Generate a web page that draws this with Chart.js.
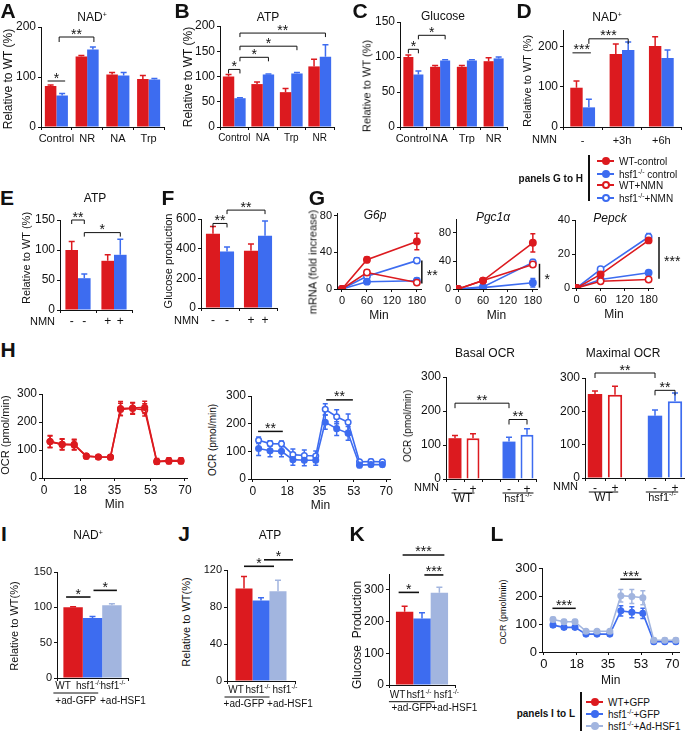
<!DOCTYPE html>
<html>
<head>
<meta charset="utf-8">
<script src="https://cdn.jsdelivr.net/npm/chart.js@4.4.1/dist/chart.umd.min.js"></script>
<style>
html, body { margin: 0; padding: 0; background: #fff; }
#fig { position: relative; width: 685px; height: 731px; overflow: hidden; font-family: "Liberation Sans", Arial, sans-serif; color: #111; }
#fig canvas { position: absolute; }
.t { position: absolute; transform: translate(-50%, -50%); white-space: nowrap; font-size: 12px; line-height: 1; z-index: 5; }
.it { font-style: italic; }
.yt { position: absolute; transform: translate(-50%, -50%) rotate(-90deg); white-space: nowrap; font-size: 11px; line-height: 1; z-index: 5; }
.lt { position: absolute; transform: translate(-50%, -50%); font-weight: bold; font-size: 21px; line-height: 1; z-index: 5; }
.leg { position: absolute; font-size: 10px; line-height: 1; white-space: nowrap; transform: translateY(-50%); z-index: 5; }
.leg sup, .t sup { font-size: 7px; vertical-align: 4px; }
.mk { display: inline-block; position: relative; width: 17px; height: 8px; vertical-align: 0px; margin-right: 5px; }
.mk::before { content: ""; position: absolute; left: 0; right: 0; top: 3px; height: 1.5px; background: var(--c); }
.mk i { position: absolute; left: 4.5px; top: 0; width: 4px; height: 4px; border-radius: 50%; border: 2px solid var(--c); background: var(--c); }
.mk.o i { background: #fff; }
.vb { position: absolute; width: 1.5px; background: #111; z-index: 5; }
.pn { position: absolute; font-size: 10px; font-weight: bold; transform: translate(-100%, -50%); white-space: nowrap; z-index: 5; }
</style>
</head>
<body>
<div id="fig">
  <div class="lt" style="left:8px;top:10px">A</div>
  <div class="lt" style="left:182px;top:10px">B</div>
  <div class="lt" style="left:360px;top:10px">C</div>
  <div class="lt" style="left:524px;top:10px">D</div>
  <div class="lt" style="left:7px;top:197px">E</div>
  <div class="lt" style="left:168px;top:197px">F</div>
  <div class="lt" style="left:317px;top:197px">G</div>
  <div class="lt" style="left:8px;top:349px">H</div>
  <div class="lt" style="left:4px;top:533px">I</div>
  <div class="lt" style="left:184px;top:533px">J</div>
  <div class="lt" style="left:357px;top:533px">K</div>
  <div class="lt" style="left:497px;top:533px">L</div>

  <div class="t" style="left:92px;top:17px">NAD<sup>+</sup></div>
  <div class="t" style="left:268px;top:17px">ATP</div>
  <div class="t" style="left:443px;top:16px">Glucose</div>
  <div class="t" style="left:607px;top:17px">NAD<sup>+</sup></div>
  <div class="t" style="left:95px;top:198px">ATP</div>
  <div class="t it" style="left:375px;top:215px">G6p</div>
  <div class="t it" style="left:493px;top:217px">Pgc1α</div>
  <div class="t it" style="left:610px;top:218px">Pepck</div>
  <div class="t" style="left:485px;top:353px">Basal OCR</div>
  <div class="t" style="left:623px;top:353px">Maximal OCR</div>
  <div class="t" style="left:88px;top:535px">NAD<sup>+</sup></div>
  <div class="t" style="left:270px;top:535px">ATP</div>

  <div class="yt" style="left:8px;top:79px;font-size:12px">Relative to WT (%)</div>
  <div class="yt" style="left:188px;top:77px;font-size:12px">Relative to WT (%)</div>
  <div class="yt" style="left:367px;top:86px">Relative to WT (%)</div>
  <div class="yt" style="left:527px;top:81px">Relative to WT (%)</div>
  <div class="yt" style="left:26px;top:258px">Relative to WT (%)</div>
  <div class="yt" style="left:168px;top:261px">Glucose production</div>
  <div class="yt" style="left:313px;top:262px">mRNA (fold increase)</div>
  <div class="yt" style="left:5px;top:435px">OCR (pmol/min)</div>
  <div class="yt" style="left:213px;top:440px;font-size:10px">OCR (pmol/min)</div>
  <div class="yt" style="left:408px;top:426px;font-size:10px">OCR (pmol/min)</div>
  <div class="yt" style="left:14px;top:626px">Relative to WT(%)</div>
  <div class="yt" style="left:186px;top:622px">Relative to WT(%)</div>
  <div class="yt" style="left:357px;top:635px;font-size:12px">Glucose&nbsp;&nbsp;Production</div>
  <div class="yt" style="left:503px;top:612px;font-size:9px">OCR (pmol/min)</div>

  <div class="pn" style="left:583px;top:178px">panels G to H</div>
  <div class="vb" style="left:588px;top:155px;height:46px"></div>
  <div class="leg" style="left:597px;top:162px"><span class="mk" style="--c:#dc1a1f"><i></i></span>WT-control</div>
  <div class="leg" style="left:597px;top:174px"><span class="mk" style="--c:#3d6cf0"><i></i></span>hsf1<sup>-/-</sup> control</div>
  <div class="leg" style="left:597px;top:186px"><span class="mk o" style="--c:#dc1a1f"><i></i></span>WT+NMN</div>
  <div class="leg" style="left:597px;top:198px"><span class="mk o" style="--c:#3d6cf0"><i></i></span>hsf1<sup>-/-</sup>+NMN</div>

  <div class="pn" style="left:575px;top:713px">panels I to L</div>
  <div class="vb" style="left:580px;top:692px;height:39px"></div>
  <div class="leg" style="left:586px;top:703px"><span class="mk" style="--c:#dc1a1f"><i></i></span>WT+GFP</div>
  <div class="leg" style="left:586px;top:714px"><span class="mk" style="--c:#3d6cf0"><i></i></span>hsf1<sup>-/-</sup>+GFP</div>
  <div class="leg" style="left:586px;top:726px"><span class="mk" style="--c:#a2b5df"><i></i></span>hsf1<sup>-/-</sup>+Ad-HSF1</div>
</div>
<script>
// Colours
const RED = '#dc1a1f';
const BLUE = '#3d6cf0';
const LIGHT = '#a2b5df';
const INK = '#111';
const FONT = '"Liberation Sans", Arial, sans-serif';

// ---------- Data ----------
// A: NAD+ (relative to WT, %)
const aCats = ['Control', 'NR', 'NA', 'Trp'];
const aWT = [82, 141, 105, 96];
const aWTErr = [2, 2, 4, 7];
const aKO = [63, 155, 103, 95];
const aKOErr = [4, 5, 6, 2];
const aTicks = [0, 100, 200];

// B: ATP
const bCats = ['Control', 'NA', 'Trp', 'NR'];
const bWT = [100, 85, 69, 120];
const bWTErr = [4, 4, 7, 14];
const bKO = [57, 104, 106, 139];
const bKOErr = [1, 1, 2, 24];
const bTicks = [0, 50, 100, 150, 200];

// C: Glucose
const cCats = ['Control', 'NA', 'Trp', 'NR'];
const cWT = [100, 86, 86, 94];
const cWTErr = [3, 2, 2, 5];
const cKO = [75, 95, 95, 98];
const cKOErr = [5, 1, 1, 2];
const cTicks = [0, 50, 100, 150];

// D: NAD+ after NMN
const dCats = ['-', '+3h', '+6h'];
const dWT = [98, 182, 202];
const dWTErr = [17, 25, 23];
const dKO = [49, 192, 172];
const dKOErr = [20, 20, 20];
const dTicks = [0, 100, 200];

// E: ATP with NMN
const eWT = [100, 82];
const eWTErr = [14, 10];
const eKO = [53, 92];
const eKOErr = [7, 26];
const eNmn = ['-', '-', '+', '+'];
const eTicks = [0, 50, 100, 150];

// F: Glucose production with NMN
const fWT = [500, 386];
const fWTErr = [50, 45];
const fKO = [381, 487];
const fKOErr = [30, 100];
const fNmn = ['-', '-', '+', '+'];
const fTicks = [0, 200, 400, 600];

// G: mRNA time course
const gMin = [0, 60, 180];
const gMinTicks = [0, 60, 120, 180];
const g6pWTc = [0, 32, 52];
const g6pWTcErr = [0, 3, 9];
const g6pKOc = [0, 8, 9];
const g6pKOcErr = [0, 2, 3];
const g6pWTn = [0, 18, 7];
const g6pWTnErr = [0, 3, 2];
const g6pKOn = [0, 14, 31];
const g6pKOnErr = [0, 3, 3];
const g6pTicks = [0, 40, 80];

const pgcWTc = [0, 12, 66];
const pgcWTcErr = [0, 2, 13];
const pgcKOc = [0, 2, 9];
const pgcKOcErr = [0, 1, 6];
const pgcWTn = [0, 12, 35];
const pgcWTnErr = [0, 2, 3];
const pgcKOn = [0, 3, 38];
const pgcKOnErr = [0, 2, 4];
const pgcTicks = [0, 40, 80];

const pepWTc = [0, 8, 28];
const pepWTcErr = [0, 1, 1];
const pepKOc = [0, 5, 9];
const pepKOcErr = [0, 1, 1];
const pepWTn = [0, 4, 5];
const pepWTnErr = [0, 1, 1];
const pepKOn = [0, 11, 30];
const pepKOnErr = [0, 1, 2];
const pepTicks = [0, 20, 40];

// H: OCR traces
const ocrMin = [3, 9, 15, 21, 27, 33, 38, 44, 50, 56, 62, 68];
const ocrMinTicks = [0, 18, 35, 53, 70];
const ocrTicks = [0, 100, 200, 300];
const hWTc = [130, 120, 120, 78, 75, 75, 248, 250, 252, 60, 62, 62];
const hWTcErr = [22, 20, 18, 8, 6, 8, 25, 20, 22, 10, 10, 10];
const hWTn = [130, 120, 118, 78, 75, 74, 245, 248, 243, 58, 60, 60];
const hWTnErr = [20, 18, 18, 8, 6, 8, 22, 20, 22, 8, 8, 8];
const hKOc = [110, 102, 100, 70, 68, 68, 205, 182, 165, 50, 52, 52];
const hKOcErr = [25, 22, 20, 20, 20, 18, 25, 25, 25, 8, 8, 8];
const hKOn = [140, 128, 127, 88, 85, 83, 252, 225, 205, 62, 63, 62];
const hKOnErr = [12, 10, 10, 20, 20, 18, 20, 25, 30, 8, 8, 8];

// H: basal / maximal OCR bars (WT -, WT +, gap, hsf1 -, hsf1 +)
const hBarCats = ['-', '+', '', '-', '+'];
const hBasal = [120, 120, null, 110, 130];
const hBasalErr = [8, 13, 0, 13, 18];
const hMax = [252, 250, null, 187, 230];
const hMaxErr = [9, 25, 0, 17, 25];

// I-K: adenovirus rescue
const adLabels = ['WT', 'hsf1^-/-', 'hsf1^-/-'];
const iWT = [100], iKO = [85], iHSF = [103];
const iWTErr = [1], iKOErr = [2], iHSFErr = [2];
const iTicks = [0, 50, 100, 150];
const jWT = [100], jKO = [87], jHSF = [97];
const jWTErr = [13], jKOErr = [3], jHSFErr = [12];
const jTicks = [0, 40, 80, 120];
const kWT = [231], kKO = [210], kHSF = [291];
const kWTErr = [17], kKOErr = [18], kHSFErr = [17];
const kTicks = [0, 100, 200, 300];

// L: OCR rescue trace
const lMin = [5, 11, 17, 23, 29, 36, 42, 48, 54, 60, 66, 72];
const lKO = [96, 88, 88, 64, 64, 64, 147, 142, 138, 37, 37, 37];
const lKOErr = [8, 6, 6, 5, 5, 5, 18, 20, 18, 6, 6, 6];
const lHSF = [116, 108, 108, 74, 74, 74, 201, 198, 194, 42, 42, 42];
const lHSFErr = [8, 8, 8, 5, 5, 5, 22, 25, 25, 8, 8, 8];

// ---------- Helpers ----------
Chart.defaults.font.family = FONT;
Chart.defaults.color = INK;

function drawRich(ctx, str, x, y, size, align) {
    const [base, sup] = str.split('^');
    ctx.font = `${size}px ${FONT}`;
    const wb = ctx.measureText(base).width;
    let ws = 0;
    if (sup) {
        ctx.font = `${size * 0.65}px ${FONT}`;
        ws = ctx.measureText(sup).width;
    }
    let x0 = x - (wb + ws) / 2;
    if (align === 'right') x0 = x - wb - ws;
    if (align === 'left') x0 = x;
    ctx.textAlign = 'left';
    ctx.textBaseline = 'middle';
    ctx.font = `${size}px ${FONT}`;
    ctx.fillText(base, x0, y);
    if (sup) {
        ctx.font = `${size * 0.65}px ${FONT}`;
        ctx.fillText(sup, x0 + wb, y - size * 0.32);
    }
}

function drawErrors(chart, kind) {
    const ctx = chart.ctx;
    chart.data.datasets.forEach((ds, i) => {
        if (!ds.errors) return;
        const meta = chart.getDatasetMeta(i);
        if (meta.type !== kind) return;
        const ys = chart.scales[meta.yAxisID];
        meta.data.forEach((el, j) => {
            const raw = ds.data[j];
            const v = (raw !== null && typeof raw === 'object') ? raw.y : raw;
            const e = ds.errors[j];
            if (v === null || v === undefined || !e) return;
            const col = Array.isArray(ds.errColor) ? ds.errColor[j] : ds.errColor;
            const top = ys.getPixelForValue(v + e);
            const bot = kind === 'bar' ? el.y : ys.getPixelForValue(v - e);
            const cap = ds.errCap || 3;
            ctx.save();
            ctx.strokeStyle = col;
            ctx.lineWidth = ds.errWidth || 1.5;
            ctx.beginPath();
            ctx.moveTo(el.x, bot);
            ctx.lineTo(el.x, top);
            ctx.moveTo(el.x - cap, top);
            ctx.lineTo(el.x + cap, top);
            if (kind === 'line') {
                ctx.moveTo(el.x - cap, bot);
                ctx.lineTo(el.x + cap, bot);
            }
            ctx.stroke();
            ctx.restore();
        });
    });
}

const errPlugin = {
    id: 'errbars',
    beforeDatasetsDraw(chart) { drawErrors(chart, 'line'); },
    afterDatasetsDraw(chart) { drawErrors(chart, 'bar'); }
};

function barX(chart, ref) {
    return chart.getDatasetMeta(ref[1]).data[ref[0]].x;
}

// Significance brackets and lines
const sigPlugin = {
    id: 'sig',
    afterDatasetsDraw(chart) {
        const items = (chart.canvas._extra || {}).sig || [];
        const ctx = chart.ctx;
        const xs = chart.scales.x, ys = chart.scales.y;
        ctx.save();
        ctx.strokeStyle = INK;
        ctx.fillStyle = INK;
        for (const it of items) {
            ctx.lineWidth = it.lw || 1;
            ctx.font = `${it.fs || 14}px ${FONT}`;
            if (it.vx !== undefined) {
                const x = xs.getPixelForValue(it.vx);
                const y0 = ys.getPixelForValue(it.y0), y1 = ys.getPixelForValue(it.y1);
                ctx.lineWidth = 1.5;
                ctx.beginPath();
                ctx.moveTo(x, y0);
                ctx.lineTo(x, y1);
                ctx.stroke();
                ctx.textAlign = 'left';
                ctx.textBaseline = 'alphabetic';
                ctx.fillText(it.text, x + 5, (y0 + y1) / 2 + 8);
                continue;
            }
            let xa, xb;
            if (it.xa !== undefined) {
                xa = xs.getPixelForValue(it.xa);
                xb = xs.getPixelForValue(it.xb);
            } else {
                xa = barX(chart, it.a) + (it.da || 0);
                xb = barX(chart, it.b) + (it.db || 0);
            }
            const y = ys.getPixelForValue(it.y);
            ctx.beginPath();
            if (it.end) {
                ctx.moveTo(xa, y + it.end);
                ctx.lineTo(xa, y);
                ctx.lineTo(xb, y);
                ctx.lineTo(xb, y + it.end);
            } else {
                ctx.moveTo(xa, y);
                ctx.lineTo(xb, y);
            }
            ctx.stroke();
            ctx.textAlign = 'center';
            ctx.textBaseline = 'alphabetic';
            ctx.fillText(it.text, (xa + xb) / 2, y + 1.5);
        }
        ctx.restore();
    }
};

// Per-bar labels, group labels and prefixes under the x axis
const notesPlugin = {
    id: 'xnotes',
    afterDraw(chart) {
        const n = (chart.canvas._extra || {}).notes;
        if (!n) return;
        const ctx = chart.ctx;
        const base = chart.chartArea.bottom;
        const bars = [];
        chart.data.datasets.forEach((ds, i) => {
            chart.getDatasetMeta(i).data.forEach((el, j) => {
                if (ds.data[j] !== null) bars.push(el);
            });
        });
        bars.sort((p, q) => p.x - q.x);
        ctx.save();
        ctx.fillStyle = INK;
        ctx.strokeStyle = INK;
        if (n.prefix) {
            drawRich(ctx, n.prefix.text, chart.chartArea.left + n.prefix.dx, base + n.prefix.dy, n.prefix.fs || 11, 'right');
        }
        if (n.labels) {
            n.labels.texts.forEach((t, k) => {
                const dx = n.labels.dxs ? n.labels.dxs[k] : 0;
                drawRich(ctx, t, bars[k].x + dx, base + n.labels.dy, n.labels.fs || 12);
            });
        }
        (n.groups || []).forEach(g => {
            const xa = bars[g.from].x - bars[g.from].width / 2 + (g.pl || 0);
            const xb = bars[g.to].x + bars[g.to].width / 2 + (g.pr || 0);
            if (g.line) {
                ctx.lineWidth = 1;
                ctx.beginPath();
                ctx.moveTo(xa, base + g.ly);
                ctx.lineTo(xb, base + g.ly);
                ctx.stroke();
            }
            drawRich(ctx, g.text, (xa + xb) / 2 + (g.dx || 0), base + g.dy, g.fs || 10);
        });
        ctx.restore();
    }
};

Chart.register(errPlugin, sigPlugin, notesPlugin);

function yScale(max, ticks, fs) {
    return {
        type: 'linear',
        min: 0,
        max: max,
        afterBuildTicks: s => { s.ticks = ticks.map(v => ({ value: v })); },
        grid: { display: true, drawOnChartArea: false, drawTicks: true, tickLength: 3, color: INK },
        border: { display: true, color: INK, width: 1 },
        ticks: { font: { size: fs }, color: INK, padding: 2 }
    };
}

function xCat(fs, pad) {
    return {
        type: 'category',
        offset: true,
        grid: { display: true, offset: true, drawOnChartArea: false, drawTicks: true, tickLength: 3, color: INK },
        border: { display: true, color: INK, width: 1 },
        ticks: { font: { size: fs }, color: INK, padding: pad === undefined ? 2 : pad, autoSkip: false, maxRotation: 0 }
    };
}

function xLin(min, max, ticks, fs, title) {
    return {
        type: 'linear',
        min: min,
        max: max,
        afterBuildTicks: s => { s.ticks = ticks.map(v => ({ value: v })); },
        grid: { display: true, drawOnChartArea: false, drawTicks: true, tickLength: 3, color: INK },
        border: { display: true, color: INK, width: 1 },
        ticks: { font: { size: fs }, color: INK, padding: 2 },
        title: { display: true, text: title, font: { size: 12 }, color: INK, padding: { top: 0, bottom: 0 } }
    };
}

const fig = document.getElementById('fig');

function addChart(box, config, extra) {
    const pt = box.pt !== undefined ? box.pt : 14;
    const pr = box.pr !== undefined ? box.pr : 10;
    const yw = box.yw !== undefined ? box.yw : 32;
    const left = Math.round(box.x0 - yw);
    const top = Math.round(box.y0 - pt);
    const w = Math.round(box.x1 + pr) - left;
    const h = Math.round(box.y1 + box.xh) - top;
    const cv = document.createElement('canvas');
    cv.width = w;
    cv.height = h;
    cv.style.left = left + 'px';
    cv.style.top = top + 'px';
    cv.style.width = w + 'px';
    cv.style.height = h + 'px';
    fig.appendChild(cv);
    cv._extra = extra || {};
    const padTop = Math.round(box.y0) - top;
    const padRight = w - (Math.round(box.x1) - left);
    const xh = h - (Math.round(box.y1) - top);
    const yW = Math.round(box.x0) - left;
    const o = config.options;
    o.responsive = false;
    o.animation = false;
    o.layout = { padding: { top: padTop, right: padRight, left: 0, bottom: 0 } };
    o.plugins = Object.assign({ legend: { display: false }, tooltip: { enabled: false } }, o.plugins || {});
    o.scales.x.afterFit = s => { s.height = xh; s.paddingLeft = 0; s.paddingRight = 0; };
    o.scales.y.afterFit = s => { s.width = yW; s.paddingTop = 0; s.paddingBottom = 0; };
    return new Chart(cv, config);
}

function barSet(data, errs, color) {
    return { data: data, errors: errs, backgroundColor: color, borderWidth: 0, errColor: color };
}

function pairConfig(cats, wt, wtErr, ko, koErr, cp, yMax, yTicks, xfs) {
    return {
        type: 'bar',
        data: { labels: cats, datasets: [barSet(wt, wtErr, RED), barSet(ko, koErr, BLUE)] },
        options: {
            datasets: { bar: { categoryPercentage: cp, barPercentage: 1 } },
            scales: { x: xCat(xfs), y: yScale(yMax, yTicks, 12) }
        }
    };
}

function lineSet(xs, ys, errs, color, open, r) {
    return {
        data: xs.map((x, i) => ({ x: x, y: ys[i] })),
        errors: errs,
        errColor: color,
        errCap: 2.5,
        borderColor: color,
        backgroundColor: open ? '#fff' : color,
        pointBackgroundColor: open ? '#fff' : color,
        pointBorderColor: color,
        pointBorderWidth: 1.5,
        pointRadius: r || 3.2,
        borderWidth: 1.6,
        tension: 0
    };
}

function lineConfig(datasets, xMin, xMax, xTicks, xfs, yMax, yTicks, yfs) {
    return {
        type: 'line',
        data: { datasets: datasets },
        options: {
            scales: {
                x: xLin(xMin, xMax, xTicks, xfs, 'Min'),
                y: yScale(yMax, yTicks, yfs)
            }
        }
    };
}

function ocrBarConfig(vals, errs) {
    return {
        type: 'bar',
        data: {
            labels: hBarCats,
            datasets: [{
                data: vals,
                errors: errs,
                backgroundColor: [RED, '#fff', RED, BLUE, '#fff'],
                borderColor: [RED, RED, RED, BLUE, BLUE],
                borderWidth: [0, 2, 0, 0, 2],
                errColor: [RED, RED, RED, BLUE, BLUE]
            }]
        },
        options: {
            datasets: { bar: { categoryPercentage: 1, barPercentage: 0.72 } },
            scales: { x: xCat(12, 0), y: yScale(300, ocrTicks, 12) }
        }
    };
}

function rescueConfig(wt, wtErr, ko, koErr, hsf, hsfErr, cp, yMax, yTicks, yfs) {
    return {
        type: 'bar',
        data: { labels: [''], datasets: [barSet(wt, wtErr, RED), barSet(ko, koErr, BLUE), barSet(hsf, hsfErr, LIGHT)] },
        options: {
            datasets: { bar: { categoryPercentage: cp, barPercentage: 1 } },
            scales: { x: xCat(11), y: yScale(yMax, yTicks, yfs) }
        }
    };
}

// ---------- Row 1 ----------
addChart({ x0: 41, x1: 164, y0: 27, y1: 127, xh: 22 },
    pairConfig(aCats, aWT, aWTErr, aKO, aKOErr, 0.75, 200, aTicks, 11),
    { sig: [
        { a: [0, 0], b: [0, 1], y: 92, text: '*', da: -3, db: 3 },
        { a: [0, 1], b: [1, 1], y: 180, text: '**', end: 5, da: -3, db: 1 }
    ] });

addChart({ x0: 220, x1: 334, y0: 26, y1: 127, xh: 22 },
    pairConfig(bCats, bWT, bWTErr, bKO, bKOErr, 0.8, 200, bTicks, 10),
    { sig: [
        { a: [0, 0], b: [0, 1], y: 114, text: '*', end: 4 },
        { a: [0, 1], b: [1, 1], y: 138, text: '*', end: 4 },
        { a: [0, 1], b: [2, 1], y: 160, text: '*', end: 4 },
        { a: [0, 1], b: [3, 1], y: 186, text: '**', end: 4 }
    ] });

addChart({ x0: 400, x1: 507, y0: 22, y1: 127, xh: 22 },
    pairConfig(cCats, cWT, cWTErr, cKO, cKOErr, 0.75, 150, cTicks, 11),
    { sig: [
        { a: [0, 0], b: [0, 1], y: 111, text: '*', end: 4 },
        { a: [0, 1], b: [1, 1], y: 131, text: '*', end: 4 }
    ] });

(function () {
    const cfg = pairConfig(dCats, dWT, dWTErr, dKO, dKOErr, 0.63, 242, dTicks, 11);
    cfg.options.scales.x.ticks.padding = 4;
    addChart({ x0: 563, x1: 681, y0: 30, y1: 127, xh: 22, pr: 4, yw: 36 }, cfg, {
        sig: [
            { a: [0, 0], b: [0, 1], y: 185, text: '***', da: -4, db: 2 },
            { a: [0, 1], b: [1, 1], y: 220, text: '***', end: 5 }
        ],
        notes: { prefix: { text: 'NMN', dx: -6, dy: 13 } }
    });
})();

// ---------- Row 2 ----------
addChart({ x0: 60, x1: 132, y0: 220, y1: 310, xh: 22, yw: 34 },
    pairConfig(['', ''], eWT, eWTErr, eKO, eKOErr, 0.7, 150, eTicks, 12),
    {
        sig: [
            { a: [0, 0], b: [0, 1], y: 150, text: '**', end: 4 },
            { a: [0, 1], b: [1, 1], y: 129, text: '*', end: 4 }
        ],
        notes: { prefix: { text: 'NMN', dx: -5, dy: 12 }, labels: { texts: eNmn, dy: 12 } }
    });

addChart({ x0: 201, x1: 277, y0: 219, y1: 308, xh: 22, pt: 20, yw: 30 },
    pairConfig(['', ''], fWT, fWTErr, fKO, fKOErr, 0.74, 600, fTicks, 12),
    {
        sig: [
            { a: [0, 0], b: [0, 1], y: 570, text: '**', end: 4 },
            { a: [0, 1], b: [1, 1], y: 660, text: '**', end: 4 }
        ],
        notes: { prefix: { text: 'NMN', dx: -2, dy: 13 }, labels: { texts: fNmn, dy: 13 } }
    });

addChart({ x0: 337, x1: 421, y0: 212.5, y1: 289.3, yw: 18, xh: 34, pr: 26 },
    lineConfig([
        lineSet(gMin, g6pWTc, g6pWTcErr, RED, false),
        lineSet(gMin, g6pWTn, g6pWTnErr, RED, true),
        lineSet(gMin, g6pKOc, g6pKOcErr, BLUE, false),
        lineSet(gMin, g6pKOn, g6pKOnErr, BLUE, true)
    ], -12, 190, gMinTicks, 11, 83, g6pTicks, 11),
    { sig: [{ vx: 192, y0: 6, y1: 31, text: '**' }] });

addChart({ x0: 456, x1: 537, y0: 219.3, y1: 289.3, yw: 24, xh: 34, pr: 18 },
    lineConfig([
        lineSet(gMin, pgcWTc, pgcWTcErr, RED, false),
        lineSet(gMin, pgcWTn, pgcWTnErr, RED, true),
        lineSet(gMin, pgcKOc, pgcKOcErr, BLUE, false),
        lineSet(gMin, pgcKOn, pgcKOnErr, BLUE, true)
    ], -5, 190, gMinTicks, 11, 100, pgcTicks, 11),
    { sig: [{ vx: 196, y0: 2, y1: 36, text: '*' }] });

addChart({ x0: 575, x1: 653, y0: 220, y1: 288.3, yw: 24, xh: 34, pr: 32 },
    lineConfig([
        lineSet(gMin, pepWTc, pepWTcErr, RED, false),
        lineSet(gMin, pepWTn, pepWTnErr, RED, true),
        lineSet(gMin, pepKOc, pepKOcErr, BLUE, false),
        lineSet(gMin, pepKOn, pepKOnErr, BLUE, true)
    ], -4, 191, gMinTicks, 11, 40, pepTicks, 11),
    { sig: [{ vx: 206, y0: 5.5, y1: 30, text: '***' }] });

// ---------- Row 3 (H) ----------
addChart({ x0: 42, x1: 187, y0: 394, y1: 478.3, yw: 30, xh: 34 },
    lineConfig([
        lineSet(ocrMin, hWTc, hWTcErr, RED, false, 2.8),
        lineSet(ocrMin, hWTn, hWTnErr, RED, true, 2.8)
    ], -1, 71, ocrMinTicks, 12, 300, ocrTicks, 12));

addChart({ x0: 251, x1: 390, y0: 396, y1: 479.3, yw: 30, xh: 34, pt: 20 },
    lineConfig([
        lineSet(ocrMin, hKOc, hKOcErr, BLUE, false, 2.8),
        lineSet(ocrMin, hKOn, hKOnErr, BLUE, true, 2.8)
    ], -1, 72, ocrMinTicks, 12, 300, ocrTicks, 12),
    { sig: [
        { xa: 2.7, xb: 15.7, y: 172, text: '**', lw: 1.5 },
        { xa: 38.5, xb: 52.5, y: 286, text: '**', lw: 1.5 }
    ] });

addChart({ x0: 446, x1: 536, y0: 377.3, y1: 479.3, yw: 34, xh: 26, pr: 6 },
    ocrBarConfig(hBasal, hBasalErr),
    {
        sig: [
            { a: [0, 0], b: [3, 0], y: 223, text: '**', end: 5 },
            { a: [3, 0], b: [4, 0], y: 175, text: '**', end: 5 }
        ],
        notes: {
            prefix: { text: 'NMN', dx: -7, dy: 9 },
            groups: [
                { from: 0, to: 1, text: 'WT', line: true, ly: 14, dy: 20, pl: 3, pr: -5, fs: 12 },
                { from: 2, to: 3, text: 'hsf1^-/-', line: true, ly: 14, dy: 20, fs: 11 }
            ]
        }
    });

addChart({ x0: 585, x1: 685, y0: 378.3, y1: 478.3, yw: 34, xh: 26, pr: 0 },
    ocrBarConfig(hMax, hMaxErr),
    {
        sig: [
            { a: [0, 0], b: [3, 0], y: 315, text: '**', end: 5 },
            { a: [3, 0], b: [4, 0], y: 263, text: '**', end: 5 }
        ],
        notes: {
            prefix: { text: 'NMN', dx: -7, dy: 9 },
            groups: [
                { from: 0, to: 1, text: 'WT', line: true, ly: 14, dy: 20, pl: 1, pr: -4, fs: 12 },
                { from: 2, to: 3, text: 'hsf1^-/-', line: true, ly: 14, dy: 20, pl: -2, pr: -4, fs: 11 }
            ]
        }
    });

// ---------- Row 4 ----------
addChart({ x0: 57, x1: 128, y0: 571.7, y1: 678.3, yw: 30, xh: 30, pr: 22 },
    rescueConfig(iWT, iWTErr, iKO, iKOErr, iHSF, iHSFErr, 0.82, 150, iTicks, 11),
    {
        sig: [
            { a: [0, 0], b: [0, 1], y: 114.6, text: '*', da: -7, db: -2, lw: 1.6 },
            { a: [0, 1], b: [0, 2], y: 124, text: '*', da: 1, db: 5, lw: 1.6 }
        ],
        notes: {
            labels: { texts: adLabels, dy: 8.5, dxs: [-10, -4, 1], fs: 10 },
            groups: [
                { from: 0, to: 1, text: '+ad-GFP', line: true, ly: 15, dy: 23.5, pl: -10, pr: -4 },
                { from: 2, to: 2, text: '+ad-HSF1', dy: 23.5, dx: 11 }
            ]
        }
    });

addChart({ x0: 227, x1: 295, y0: 570, y1: 680.7, yw: 30, xh: 30, pt: 22, pr: 24 },
    rescueConfig(jWT, jWTErr, jKO, jKOErr, jHSF, jHSFErr, 0.75, 120, jTicks, 11),
    {
        sig: [
            { a: [0, 0], b: [0, 1], y: 124, text: '*', da: 0, db: 13, lw: 1.6 },
            { a: [0, 1], b: [0, 2], y: 131, text: '*', da: 3, db: 15, lw: 1.6 }
        ],
        notes: {
            labels: { texts: adLabels, dy: 9.5, dxs: [-8, -3, 7], fs: 10 },
            groups: [
                { from: 0, to: 1, text: '+ad-GFP', line: true, ly: 16, dy: 23.5, pl: -11, pr: 0, dx: -3 },
                { from: 2, to: 2, text: '+ad-HSF1', dy: 23.5, dx: 12 }
            ]
        }
    });

addChart({ x0: 389, x1: 455, y0: 574, y1: 685, yw: 30, xh: 30, pt: 32, pr: 28 },
    rescueConfig(kWT, kWTErr, kKO, kKOErr, kHSF, kHSFErr, 0.79, 350, kTicks, 12),
    {
        sig: [
            { a: [0, 0], b: [0, 1], y: 292, text: '*', da: -6, db: -3, lw: 1.6 },
            { a: [0, 2], b: [0, 2], y: 347, text: '***', da: -15, db: 4, lw: 1.6 },
            { a: [0, 0], b: [0, 2], y: 410, text: '***', da: -2, db: 5, lw: 1.6 }
        ],
        notes: {
            labels: { texts: adLabels, dy: 10, dxs: [-7, -3, 7], fs: 10 },
            groups: [
                { from: 0, to: 1, text: '+ad-GFP', line: true, ly: 16.7, dy: 23, pl: -7, pr: 4 },
                { from: 2, to: 2, text: '+ad-HSF1', dy: 23, dx: 15 }
            ]
        }
    });

addChart({ x0: 542, x1: 684, y0: 568.3, y1: 651.7, yw: 30, xh: 36, pr: 1 },
    lineConfig([
        lineSet(lMin, lHSF, lHSFErr, LIGHT, false, 2.8),
        lineSet(lMin, lKO, lKOErr, BLUE, false, 2.8)
    ], -1, 74, ocrMinTicks, 13, 300, ocrTicks, 13),
    { sig: [
        { xa: 4.7, xb: 17.4, y: 156, text: '***', lw: 1.5 },
        { xa: 41.7, xb: 53.3, y: 260, text: '***', lw: 1.5 }
    ] });
</script>
</body>
</html>
